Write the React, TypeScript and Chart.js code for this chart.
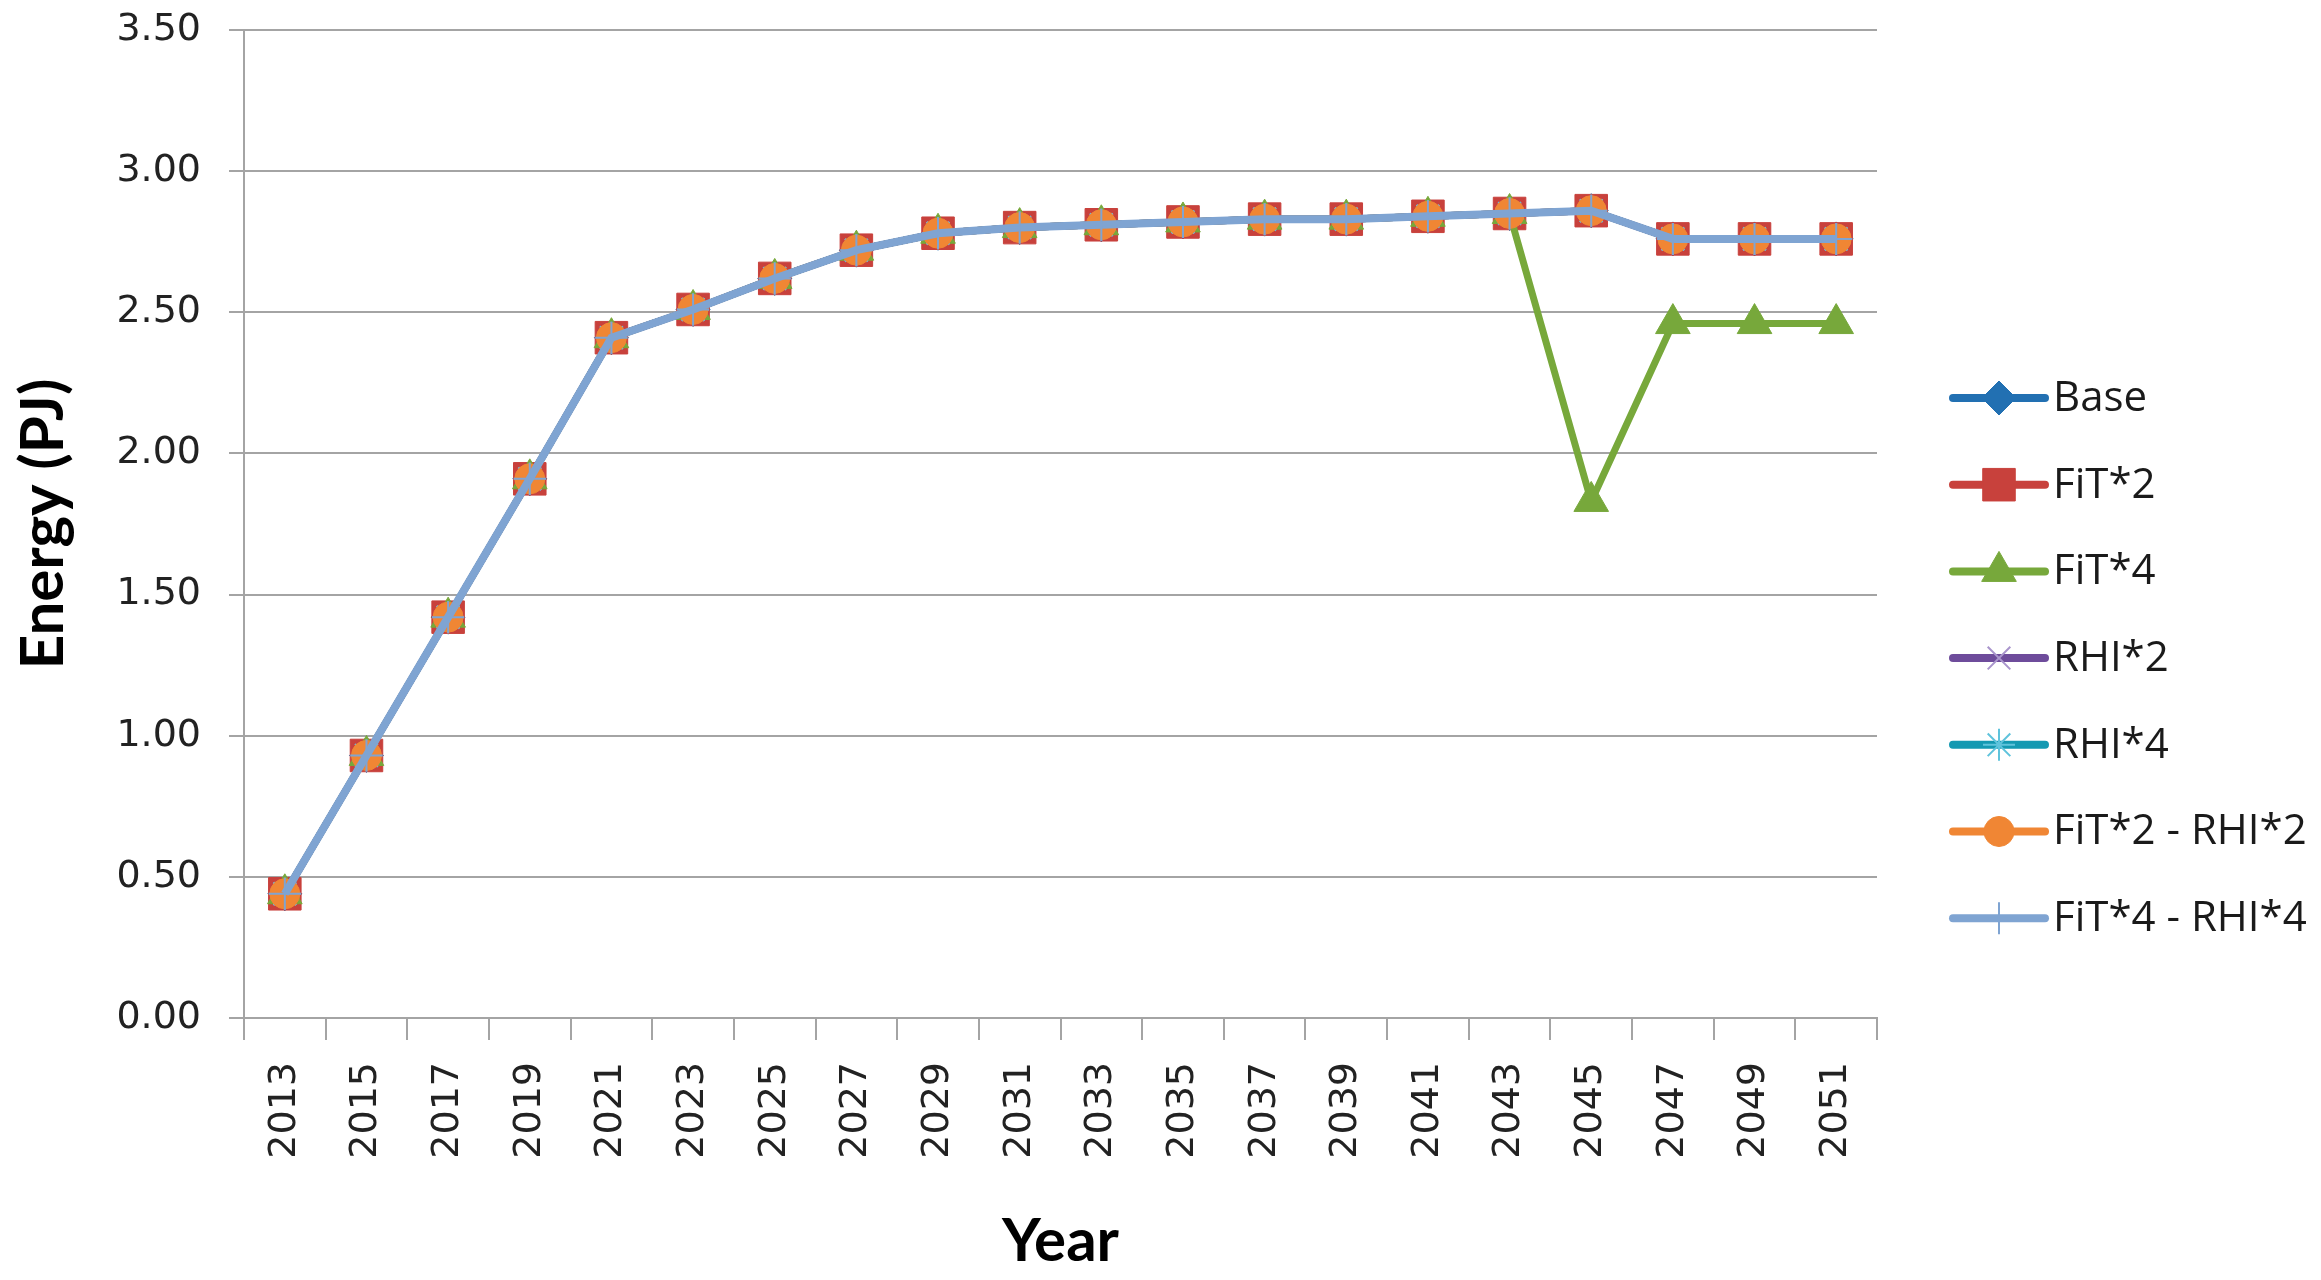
import React, { useEffect, useRef } from 'react';
import { Chart, registerables } from 'chart.js';
import { drawPoint } from 'chart.js/helpers';

Chart.register(...registerables);

// ---- Data ----
const years = ['2013', '2015', '2017', '2019', '2021', '2023', '2025', '2027', '2029', '2031',
  '2033', '2035', '2037', '2039', '2041', '2043', '2045', '2047', '2049', '2051'];

const baseValues = [0.44, 0.93, 1.42, 1.91, 2.41, 2.51, 2.62, 2.72, 2.78, 2.80, 2.81, 2.82, 2.83, 2.83, 2.84, 2.85, 2.86, 2.76, 2.76, 2.76];
const fit2Values = [0.44, 0.93, 1.42, 1.91, 2.41, 2.51, 2.62, 2.72, 2.78, 2.80, 2.81, 2.82, 2.83, 2.83, 2.84, 2.85, 2.86, 2.76, 2.76, 2.76];
const fit4Values = [0.44, 0.93, 1.42, 1.91, 2.41, 2.51, 2.62, 2.72, 2.78, 2.80, 2.81, 2.82, 2.83, 2.83, 2.84, 2.85, 1.83, 2.46, 2.46, 2.46];
const rhi2Values = [0.44, 0.93, 1.42, 1.91, 2.41, 2.51, 2.62, 2.72, 2.78, 2.80, 2.81, 2.82, 2.83, 2.83, 2.84, 2.85, 2.86, 2.76, 2.76, 2.76];
const rhi4Values = [0.44, 0.93, 1.42, 1.91, 2.41, 2.51, 2.62, 2.72, 2.78, 2.80, 2.81, 2.82, 2.83, 2.83, 2.84, 2.85, 2.86, 2.76, 2.76, 2.76];
const fit2rhi2Values = [0.44, 0.93, 1.42, 1.91, 2.41, 2.51, 2.62, 2.72, 2.78, 2.80, 2.81, 2.82, 2.83, 2.83, 2.84, 2.85, 2.86, 2.76, 2.76, 2.76];
const fit4rhi4Values = [0.44, 0.93, 1.42, 1.91, 2.41, 2.51, 2.62, 2.72, 2.78, 2.80, 2.81, 2.82, 2.83, 2.83, 2.84, 2.85, 2.86, 2.76, 2.76, 2.76];

const seriesNames = ['Base', 'FiT*2', 'FiT*4', 'RHI*2', 'RHI*4', 'FiT*2 - RHI*2', 'FiT*4 - RHI*4'];
const seriesValues = [baseValues, fit2Values, fit4Values, rhi2Values, rhi4Values, fit2rhi2Values, fit4rhi4Values];

const yTickMin = 0;
const yTickMax = 3.5;
const yTickStep = 0.5;

const xTitle = 'Year';
const yTitle = 'Energy (PJ)';

// ---- Styles ----
const seriesStyles = [
  { line: '#2270B2', fill: '#2270B2', border: '#2270B2', style: 'rectRot', radius: 17, bw: 1, lw: 7 },
  { line: '#C8413C', fill: '#C8413C', border: '#C8413C', style: 'rect', radius: 23, bw: 1, lw: 7 },
  { line: '#77A83B', fill: '#77A83B', border: '#77A83B', style: 'triangle', radius: 20, bw: 1, lw: 7 },
  { line: '#6E4C9B', fill: 'rgba(0,0,0,0)', border: '#A995CC', style: 'crossRot', radius: 16, bw: 2, lw: 7 },
  { line: '#1499B2', fill: 'rgba(0,0,0,0)', border: '#5FC3DC', style: 'star', radius: 16, bw: 2, lw: 7 },
  { line: '#F08634', fill: '#F08634', border: '#F08634', style: 'circle', radius: 15, bw: 1, lw: 7 },
  { line: '#7FA4D2', fill: '#7FA4D2', border: '#7FA4D2', style: 'cross', radius: 16, bw: 2, lw: 8 },
];

const W = 2321;
const H = 1280;
const GRID = '#a4a4a4';
const TICK_FONT = { family: '"DejaVu Sans", Verdana, sans-serif', size: 38 };
const TITLE_FONT = { family: 'Lato, "Open Sans", sans-serif', size: 60, weight: 'bold' as const };

const LEGEND_X = 1953;
const LEGEND_LINE_LEN = 92;
const LEGEND_TOP = 398;
const LEGEND_STEP = 86.7;

const legendPlugin = {
  id: 'excelLegend',
  afterDraw(chart: any) {
    const ctx = chart.ctx as CanvasRenderingContext2D;
    chart.data.datasets.forEach((ds: any, i: number) => {
      const y = LEGEND_TOP + i * LEGEND_STEP;
      ctx.save();
      ctx.strokeStyle = ds.borderColor;
      ctx.lineWidth = 8;
      ctx.lineCap = 'round';
      ctx.beginPath();
      ctx.moveTo(LEGEND_X, y);
      ctx.lineTo(LEGEND_X + LEGEND_LINE_LEN, y);
      ctx.stroke();
      ctx.lineCap = 'butt';
      ctx.fillStyle = ds.pointBackgroundColor;
      ctx.strokeStyle = ds.pointBorderColor;
      ctx.lineWidth = ds.pointBorderWidth;
      drawPoint(ctx, { pointStyle: ds.pointStyle, radius: ds.pointRadius, rotation: 0, borderWidth: ds.pointBorderWidth } as any,
        LEGEND_X + LEGEND_LINE_LEN / 2, y);
      ctx.fillStyle = '#1a1a1a';
      ctx.font = '42px "Open Sans", "Noto Sans", sans-serif';
      ctx.textBaseline = 'middle';
      ctx.textAlign = 'left';
      ctx.fillText(ds.label, LEGEND_X + LEGEND_LINE_LEN + 8, y + 1);
      ctx.restore();
    });
  },
};

export default function App() {
  const canvasRef = useRef<HTMLCanvasElement | null>(null);

  useEffect(() => {
    if (!canvasRef.current) return;
    const n = seriesNames.length;
    const chart = new Chart(canvasRef.current, {
      type: 'line',
      data: {
        labels: years,
        datasets: seriesNames.map((name, i) => ({
          label: name,
          data: seriesValues[i],
          borderColor: seriesStyles[i].line,
          backgroundColor: seriesStyles[i].line,
          borderWidth: seriesStyles[i].lw,
          pointStyle: seriesStyles[i].style as any,
          pointRadius: seriesStyles[i].radius,
          pointBackgroundColor: seriesStyles[i].fill,
          pointBorderColor: seriesStyles[i].border,
          pointBorderWidth: seriesStyles[i].bw,
          tension: 0,
          fill: false,
          order: n - i,
        })),
      },
      options: {
        responsive: false,
        animation: false,
        devicePixelRatio: 1,
        layout: { padding: { top: 30, right: W - 1877, left: 0, bottom: 0 } },
        plugins: {
          legend: { display: false },
          tooltip: { enabled: false },
        },
        scales: {
          x: {
            type: 'category',
            offset: true,
            grid: {
              offset: true,
              drawOnChartArea: false,
              drawTicks: true,
              tickLength: 22,
              color: GRID,
              lineWidth: 2,
            },
            border: { display: true, color: GRID, width: 2 },
            ticks: {
              autoSkip: false,
              maxRotation: 90,
              minRotation: 90,
              padding: 22,
              color: '#222',
              font: TICK_FONT,
            },
            title: {
              display: true,
              text: xTitle,
              color: '#000',
              font: TITLE_FONT,
              padding: { top: 0, bottom: 2 },
            },
            afterFit(scale: any) {
              scale.height = H - 1018;
              scale.paddingLeft = 0;
              scale.paddingRight = 0;
            },
          },
          y: {
            min: yTickMin,
            max: yTickMax,
            ticks: {
              stepSize: yTickStep,
              padding: 28,
              color: '#222',
              font: TICK_FONT,
              callback: (v: any) => Number(v).toFixed(2),
            },
            grid: {
              color: GRID,
              lineWidth: 2,
              tickLength: 15,
              drawTicks: true,
            },
            border: { display: true, color: GRID, width: 2 },
            title: {
              display: true,
              text: yTitle,
              color: '#000',
              font: TITLE_FONT,
              padding: { top: 8, bottom: 0 },
            },
            afterFit(scale: any) {
              scale.width = 244;
              scale.paddingTop = 0;
              scale.paddingBottom = 0;
            },
          },
        },
      },
      plugins: [legendPlugin],
    });
    return () => chart.destroy();
  }, []);

  return (
    <div style={{ position: 'absolute', left: 0, top: 0, width: W, height: H, background: '#fff' }}>
      <canvas ref={canvasRef} width={W} height={H} style={{ display: 'block', width: W, height: H }} />
    </div>
  );
}
